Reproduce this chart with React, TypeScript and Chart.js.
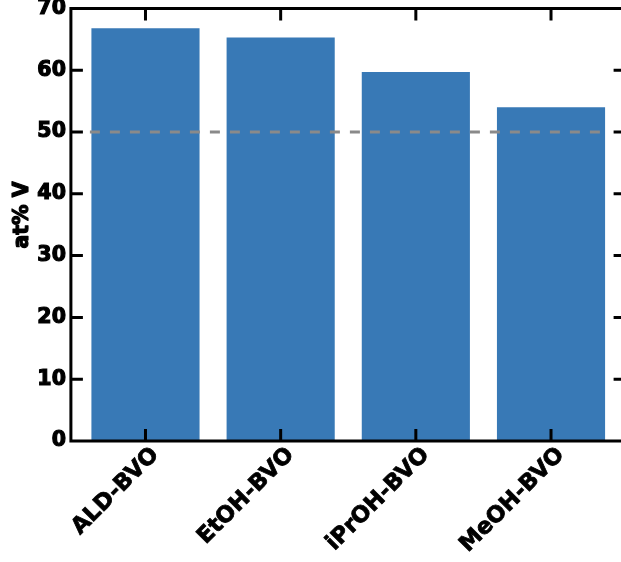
import React, { useEffect, useRef } from 'react';
import { Chart, registerables } from 'chart.js';

Chart.register(...registerables);

const categories = ['ALD-BVO', 'EtOH-BVO', 'iPrOH-BVO', 'MeOH-BVO'];
const atPercentV = [66.8, 65.3, 59.7, 54.0];
const referenceLine = 50;
const yTicks = [0, 10, 20, 30, 40, 50, 60, 70];
const yAxisTitle = 'at% V';

const FONT = '"DejaVu Sans", "Liberation Sans", Arial, sans-serif';
const CANVAS_W = 640;
const CANVAS_H = 562;

export default function App() {
  const ref = useRef<HTMLCanvasElement>(null);

  useEffect(() => {
    const canvas = ref.current;
    if (!canvas) return;

    const framePlugin = {
      id: 'framePlugin',
      afterDatasetsDraw(chart: any) {
        const { ctx, chartArea, scales } = chart;
        const y = scales.y;
        const yRef = y.getPixelForValue(referenceLine);
        ctx.save();
        ctx.strokeStyle = '#8a8a8a';
        ctx.lineWidth = 3;
        ctx.setLineDash([10, 10]);
        ctx.beginPath();
        ctx.moveTo(chartArea.left + 12, yRef);
        ctx.lineTo(chartArea.right - 9, yRef);
        ctx.stroke();
        ctx.restore();
      },
      afterDraw(chart: any) {
        const { ctx, chartArea, scales } = chart;
        const y = scales.y;
        const x = scales.x;
        const L = chartArea.left - 7;
        const R = chartArea.right + 7;
        const T = y.getPixelForValue(yTicks[yTicks.length - 1]);
        const B = y.getPixelForValue(yTicks[0]);
        ctx.save();
        ctx.strokeStyle = '#000';
        ctx.lineWidth = 3;
        ctx.lineCap = 'square';
        ctx.beginPath();
        ctx.moveTo(L, T);
        ctx.lineTo(R, T);
        ctx.lineTo(R, B);
        ctx.lineTo(L, B);
        ctx.closePath();
        ctx.stroke();
        ctx.lineCap = 'butt';
        ctx.beginPath();
        yTicks.slice(1, -1).forEach((v) => {
          const py = y.getPixelForValue(v);
          ctx.moveTo(L, py);
          ctx.lineTo(L + 12, py);
          ctx.moveTo(R, py);
          ctx.lineTo(R - 12, py);
        });
        categories.forEach((_, i) => {
          const px = x.getPixelForValue(i);
          ctx.moveTo(px, B);
          ctx.lineTo(px, B - 12);
          ctx.moveTo(px, T);
          ctx.lineTo(px, T + 12);
        });
        ctx.stroke();

        // y axis title
        ctx.translate(28, 215);
        ctx.rotate(-Math.PI / 2);
        ctx.fillStyle = '#000';
        ctx.strokeStyle = '#000';
        ctx.lineWidth = 1.2;
        ctx.lineJoin = 'round';
        ctx.font = `bold 20.5px ${FONT}`;
        ctx.textAlign = 'center';
        ctx.textBaseline = 'alphabetic';
        ctx.strokeText(yAxisTitle, 0, 0);
        ctx.fillText(yAxisTitle, 0, 0);
        ctx.restore();
      },
    };

    const chart = new Chart(canvas, {
      type: 'bar',
      data: {
        labels: categories,
        datasets: [
          {
            data: atPercentV,
            backgroundColor: '#3879b6',
            borderWidth: 0,
            barPercentage: 0.8,
            categoryPercentage: 1,
          },
        ],
      },
      options: {
        animation: false,
        responsive: false,
        devicePixelRatio: 1,
        layout: { padding: { left: 0, top: 8.4, right: CANVAS_W - 618.6, bottom: 0 } },
        plugins: { legend: { display: false }, tooltip: { enabled: false } },
        scales: {
          x: {
            type: 'category',
            offset: true,
            grid: { display: false },
            border: { display: false },
            ticks: {
              color: '#000',
              font: { family: FONT, size: 22.5, weight: 'bold' },
              textStrokeColor: '#000',
              textStrokeWidth: 0.8,
              minRotation: 45,
              maxRotation: 45,
              padding: -7,
              labelOffset: 10,
              autoSkip: false,
            },
            afterFit(scale: any) {
              scale.height = CANVAS_H - 441;
              scale.paddingLeft = 0;
              scale.paddingRight = 0;
            },
          },
          y: {
            type: 'linear',
            min: yTicks[0],
            max: yTicks[yTicks.length - 1],
            grid: { display: false, drawTicks: false },
            border: { display: false },
            ticks: {
              stepSize: 10,
              color: '#000',
              font: { family: FONT, size: 20.5, weight: 'bold' },
              textStrokeColor: '#000',
              textStrokeWidth: 1.2,
              padding: 12,
            },
            afterFit(scale: any) {
              scale.width = 77.9;
              scale.paddingTop = 0;
              scale.paddingBottom = 0;
            },
          },
        },
      },
      plugins: [framePlugin],
    } as any);

    return () => chart.destroy();
  }, []);

  return (
    <div
      style={{
        position: 'fixed',
        left: 0,
        top: 0,
        width: 621,
        height: 562,
        overflow: 'hidden',
        background: '#fff',
      }}
    >
      <canvas
        ref={ref}
        width={CANVAS_W}
        height={CANVAS_H}
        style={{ width: CANVAS_W, height: CANVAS_H, display: 'block' }}
      />
    </div>
  );
}
